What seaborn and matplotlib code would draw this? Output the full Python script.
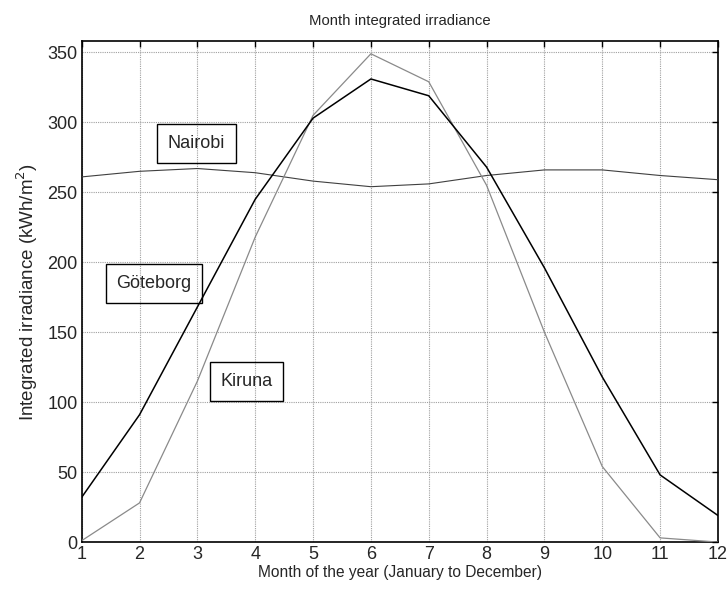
import matplotlib
matplotlib.use("Agg")
import matplotlib.pyplot as plt
import seaborn as sns
import pandas as pd

months = list(range(1, 13))
goteborg = [32, 91, 168, 245, 303, 331, 319, 268, 196, 118, 48, 19]
kiruna = [1, 28, 115, 218, 305, 349, 329, 255, 150, 54, 3, 0]
nairobi = [261, 265, 267, 264, 258, 254, 256, 262, 266, 266, 262, 259]

df = pd.DataFrame({
    "month": months * 3,
    "value": goteborg + kiruna + nairobi,
    "city": ["Göteborg"] * 12 + ["Kiruna"] * 12 + ["Nairobi"] * 12,
})

sns.set_style("white")
plt.rcParams["font.family"] = ["Liberation Sans", "DejaVu Sans"]

fig = plt.figure(figsize=(7.28, 5.97), dpi=100)
ax = fig.add_axes([0.1122, 0.092, 0.874, 0.839])

palette = {"Göteborg": "#000000", "Kiruna": "#8a8a8a", "Nairobi": "#404040"}
widths = {"Göteborg": 1.1, "Kiruna": 0.9, "Nairobi": 0.8}
for city in ["Nairobi", "Kiruna", "Göteborg"]:
    sns.lineplot(data=df[df.city == city], x="month", y="value", color=palette[city],
                 lw=widths[city], ax=ax, legend=False, zorder=3)

ax.set_xlim(1, 12)
ax.set_ylim(0, 358)
ax.set_xticks(months)
ax.set_yticks([0, 50, 100, 150, 200, 250, 300, 350])
ax.grid(True, color="#a0a0a0", linestyle=(0, (1, 1)), linewidth=0.8)
ax.tick_params(direction="in", top=True, right=True, length=4, width=1, labelsize=13,
               color="black", pad=3)
for s in ax.spines.values():
    s.set_visible(True)
    s.set_color("black")
    s.set_linewidth(1.2)

ax.set_title("Month integrated irradiance", fontsize=10.7, pad=12)
ax.set_xlabel("Month of the year (January to December)", fontsize=11.2, labelpad=1)
ax.set_ylabel("Integrated irradiance (kWh/m$^2$)", fontsize=13.5, labelpad=5)

bbox = dict(boxstyle="square,pad=0.6", facecolor="none", edgecolor="black", linewidth=1.0)
ax.text(2.98, 285, "Nairobi", fontsize=13, ha="center", va="center", bbox=bbox)
ax.text(2.25, 185, "Göteborg", fontsize=13, ha="center", va="center", bbox=bbox)
ax.text(3.85, 115, "Kiruna", fontsize=13, ha="center", va="center", bbox=bbox)

fig.savefig("out.png", dpi=100)
